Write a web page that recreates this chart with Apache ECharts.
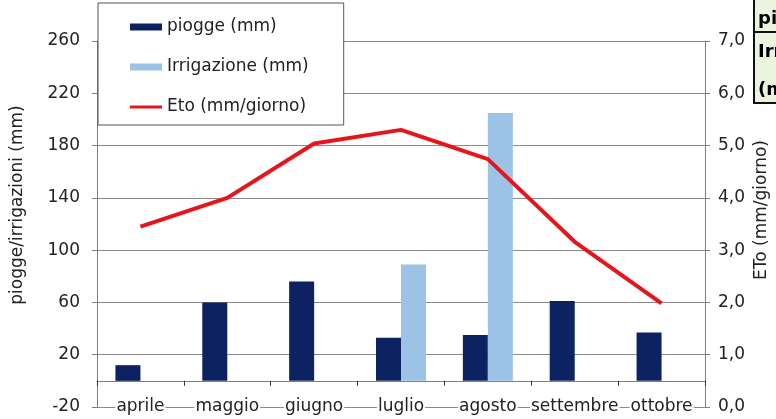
<!DOCTYPE html>
<html>
<head>
<meta charset="utf-8">
<script src="https://cdn.jsdelivr.net/npm/echarts@6/dist/echarts.min.js"></script>
<style>
  html, body { margin: 0; padding: 0; background: #fff; }
  #chart { width: 776px; height: 419px; }
</style>
</head>
<body>
<div id="chart"></div>
<script>
// Monthly rain, irrigation and reference evapotranspiration
const months = ['aprile', 'maggio', 'giugno', 'luglio', 'agosto', 'settembre', 'ottobre'];
const piogge = [12, 60, 76, 33, 35, 61, 37];                 // mm
const irrigazione = [null, null, null, 89, 205, null, null]; // mm
const eto = [3.45, 4.0, 5.04, 5.3, 4.74, 3.16, 1.98];        // mm/giorno

const seriesNames = ['piogge (mm)', 'Irrigazione (mm)', 'Eto (mm/giorno)'];
const leftAxisTitle = 'piogge/irrigazioni (mm)';
const rightAxisTitle = 'ETo (mm/giorno)';
const cellLines = ['piogge (mm)', 'Irrigazione', '(mm)'];

const FONT = '"DejaVu Sans", "Liberation Sans", Arial, sans-serif';
const AXIS_GRAY = '#7f7f7f';
const NAVY = '#0d2260';
const LIGHT_BLUE = '#9cc2e5';
const RED = '#e8141c';

const chart = echarts.init(document.getElementById('chart'), null, { renderer: 'canvas' });

chart.setOption({
  animation: false,
  backgroundColor: '#ffffff',
  textStyle: { fontFamily: FONT },
  grid: {
    left: 97, right: 71, top: 41, bottom: 12, containLabel: false,
    outerBoundsMode: 'none'
  },
  legend: {
    orient: 'vertical',
    left: 98,
    top: 3,
    padding: [14, 35, 8, 32],
    itemWidth: 32,
    itemHeight: 7,
    itemGap: 20,
    backgroundColor: '#ffffff',
    borderColor: '#555555',
    borderWidth: 1,
    textStyle: { fontFamily: FONT, fontSize: 17, color: '#222', lineHeight: 20 },
    data: [
      { name: seriesNames[0], icon: 'rect' },
      { name: seriesNames[1], icon: 'rect' },
      { name: seriesNames[2], icon: 'path://M0,0 M0,2 L32,2 L32,5 L0,5 Z M0,7' }
    ]
  },
  xAxis: {
    type: 'category',
    data: months,
    boundaryGap: true,
    z: 3,
    axisLine: { show: true, onZero: true, lineStyle: { color: AXIS_GRAY, width: 1 } },
    axisTick: { show: true, inside: false, length: 5, alignWithLabel: false, lineStyle: { color: '#333' } },
    axisLabel: {
      show: true, fontFamily: FONT, fontSize: 17, lineHeight: 18, color: '#222', margin: -9,
      backgroundColor: '#ffffff', padding: [0, 1, 0, 1], interval: 0
    },
    splitLine: { show: false }
  },
  yAxis: [
    {
      type: 'value',
      min: -20,
      max: 260,
      interval: 40,
      position: 'left',
      axisLine: { show: true, lineStyle: { color: AXIS_GRAY } },
      axisTick: { show: true, length: 5, lineStyle: { color: AXIS_GRAY } },
      axisLabel: { fontFamily: FONT, fontSize: 17, color: '#222', margin: 17 },
      splitLine: { show: true, lineStyle: { color: '#8a8a8a', width: 1 } }
    },
    {
      type: 'value',
      min: 0,
      max: 7,
      interval: 1,
      position: 'right',
      axisLine: { show: true, lineStyle: { color: AXIS_GRAY } },
      axisTick: { show: true, length: 5, lineStyle: { color: AXIS_GRAY } },
      axisLabel: {
        fontFamily: FONT, fontSize: 17, color: '#222', margin: 13,
        formatter: v => v.toFixed(1).replace('.', ',')
      },
      splitLine: { show: false }
    }
  ],
  series: [
    {
      name: seriesNames[0],
      type: 'bar',
      yAxisIndex: 0,
      data: piogge,
      barWidth: 25,
      barGap: '0%',
      itemStyle: { color: NAVY }
    },
    {
      name: seriesNames[1],
      type: 'bar',
      yAxisIndex: 0,
      data: irrigazione,
      barWidth: 25,
      barGap: '0%',
      itemStyle: { color: LIGHT_BLUE }
    },
    {
      name: seriesNames[2],
      type: 'line',
      yAxisIndex: 1,
      data: eto,
      symbol: 'none',
      smooth: false,
      itemStyle: { color: RED },
      lineStyle: { color: RED, width: 4 },
      z: 5
    }
  ],
  graphic: [
    // left axis title
    {
      type: 'text',
      x: 18, y: 205, rotation: Math.PI / 2,
      style: { text: leftAxisTitle, font: '17px ' + FONT, fill: '#222', align: 'center', verticalAlign: 'middle' }
    },
    // right axis title
    {
      type: 'text',
      x: 762, y: 210, rotation: Math.PI / 2,
      style: { text: rightAxisTitle, font: '17px ' + FONT, fill: '#222', align: 'center', verticalAlign: 'middle' }
    },
    // spreadsheet cell at the right edge
    {
      type: 'rect',
      shape: { x: 754, y: -2, width: 30, height: 105 },
      style: { fill: '#ebf4dc', stroke: '#111', lineWidth: 2 }
    },
    {
      type: 'line',
      shape: { x1: 754, y1: 32, x2: 780, y2: 32 },
      style: { stroke: '#111', lineWidth: 2 }
    },
    {
      type: 'text', x: 758, y: 19,
      style: { text: cellLines[0], font: 'bold 18px ' + FONT, fill: '#000', verticalAlign: 'middle' }
    },
    {
      type: 'text', x: 758, y: 52,
      style: { text: cellLines[1], font: 'bold 18px ' + FONT, fill: '#000', verticalAlign: 'middle' }
    },
    {
      type: 'text', x: 758, y: 90,
      style: { text: cellLines[2], font: 'bold 18px ' + FONT, fill: '#000', verticalAlign: 'middle' }
    }
  ]
});
</script>
</body>
</html>
